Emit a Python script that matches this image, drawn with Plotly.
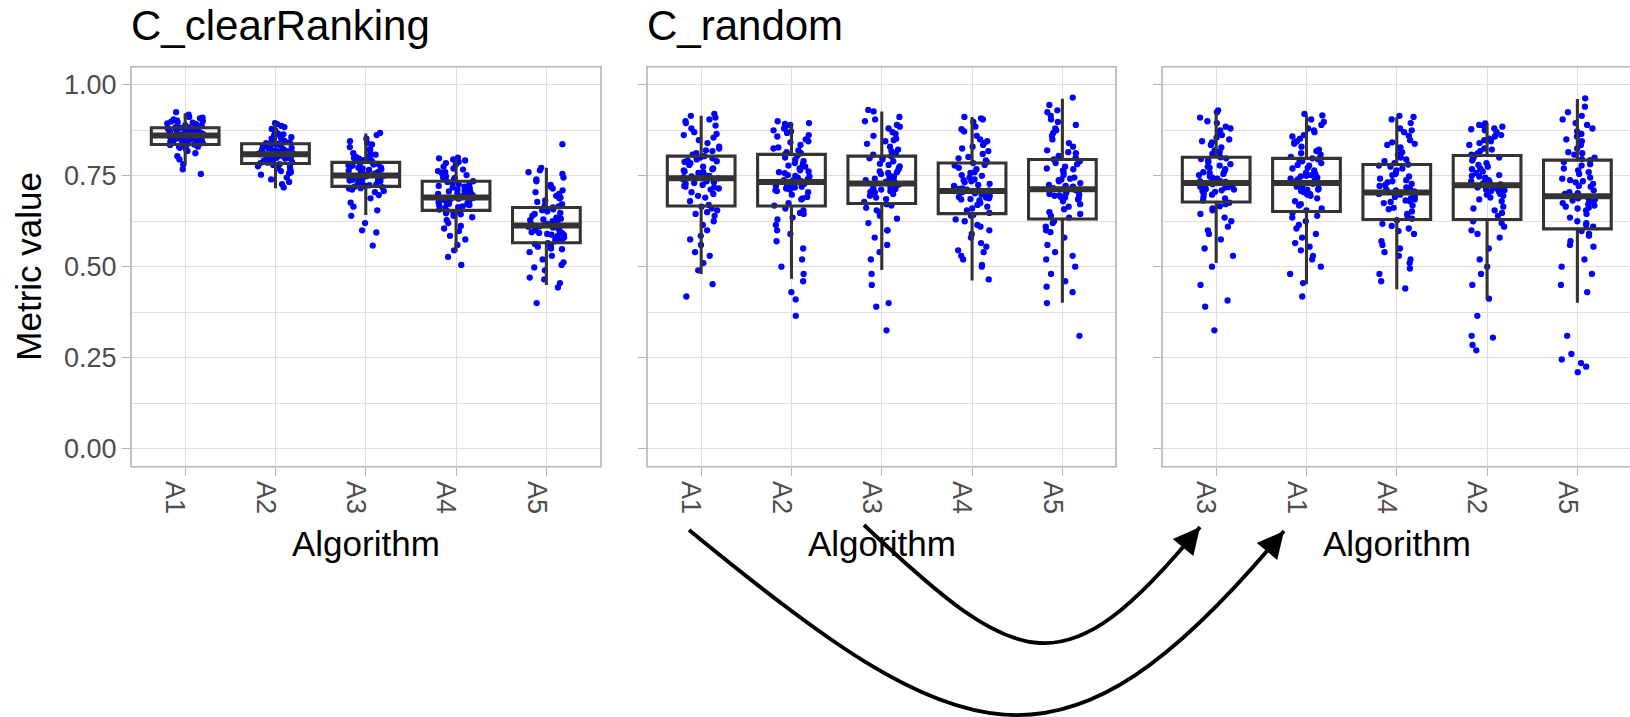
import math
import plotly.graph_objects as go

W, H = 1630, 717

# ---------------- data ----------------
cr_labels = ["A1", "A2", "A3", "A4", "A5"]
rd_labels = ["A1", "A2", "A3", "A4", "A5"]
rk_labels = ["A3", "A1", "A4", "A2", "A5"]

# panel C_clearRanking
cr_A1 = [0.861, 0.874, 0.845, 0.902, 0.853, 0.836, 0.889, 0.868, 0.823, 0.880, 0.857, 0.912, 0.848, 0.871, 0.795, 0.864, 0.884, 0.840, 0.896, 0.859, 0.830, 0.877, 0.866, 0.755, 0.851, 0.893, 0.842, 0.869, 0.905, 0.855, 0.818, 0.882, 0.862, 0.838, 0.899, 0.873, 0.847, 0.925, 0.860, 0.812, 0.886, 0.850, 0.867, 0.833, 0.891, 0.878, 0.843, 0.768, 0.865, 0.908, 0.856, 0.827, 0.881, 0.871, 0.839, 0.897, 0.863, 0.852, 0.918, 0.875, 0.804, 0.858, 0.887, 0.844, 0.870, 0.835, 0.900, 0.866, 0.849, 0.883, 0.782, 0.861, 0.894, 0.854, 0.829, 0.879, 0.846, 0.910, 0.868, 0.857]
cr_A2 = [0.809, 0.825, 0.791, 0.856, 0.802, 0.838, 0.771, 0.817, 0.866, 0.795, 0.812, 0.745, 0.831, 0.884, 0.806, 0.788, 0.843, 0.760, 0.820, 0.799, 0.874, 0.814, 0.785, 0.848, 0.733, 0.808, 0.829, 0.892, 0.797, 0.776, 0.835, 0.811, 0.852, 0.790, 0.718, 0.823, 0.804, 0.861, 0.780, 0.816, 0.840, 0.753, 0.800, 0.870, 0.827, 0.793, 0.812, 0.763, 0.846, 0.806, 0.879, 0.787, 0.821, 0.740, 0.833, 0.798, 0.858, 0.810, 0.775, 0.842, 0.803, 0.895, 0.786, 0.818, 0.727, 0.836, 0.796, 0.864, 0.813, 0.782, 0.850, 0.807, 0.768, 0.826, 0.801, 0.887, 0.792, 0.815, 0.757, 0.840]
cr_A3 = [0.751, 0.772, 0.735, 0.806, 0.744, 0.787, 0.712, 0.760, 0.829, 0.727, 0.755, 0.688, 0.778, 0.845, 0.748, 0.722, 0.793, 0.665, 0.764, 0.739, 0.818, 0.757, 0.720, 0.799, 0.640, 0.750, 0.775, 0.862, 0.731, 0.705, 0.783, 0.753, 0.812, 0.729, 0.558, 0.768, 0.742, 0.836, 0.716, 0.762, 0.790, 0.676, 0.737, 0.801, 0.770, 0.733, 0.756, 0.600, 0.795, 0.746, 0.852, 0.724, 0.766, 0.697, 0.781, 0.740, 0.823, 0.752, 0.708, 0.788, 0.743, 0.868, 0.719, 0.759, 0.594, 0.785, 0.738, 0.808, 0.758, 0.715, 0.797, 0.749, 0.655, 0.773, 0.741, 0.840, 0.726, 0.761, 0.620, 0.779]
cr_A4 = [0.690, 0.712, 0.668, 0.758, 0.681, 0.735, 0.640, 0.700, 0.782, 0.660, 0.694, 0.612, 0.722, 0.795, 0.686, 0.654, 0.744, 0.585, 0.705, 0.675, 0.770, 0.697, 0.650, 0.752, 0.545, 0.689, 0.718, 0.800, 0.664, 0.628, 0.730, 0.692, 0.763, 0.671, 0.505, 0.709, 0.679, 0.788, 0.647, 0.703, 0.740, 0.598, 0.673, 0.775, 0.715, 0.666, 0.695, 0.527, 0.748, 0.684, 0.792, 0.657, 0.707, 0.620, 0.727, 0.677, 0.767, 0.691, 0.636, 0.738, 0.682, 0.798, 0.652, 0.699, 0.560, 0.733, 0.670, 0.760, 0.693, 0.644, 0.745, 0.687, 0.575, 0.720, 0.674, 0.785, 0.662, 0.702, 0.605, 0.725]
cr_A5 = [0.613, 0.640, 0.585, 0.705, 0.600, 0.663, 0.548, 0.625, 0.745, 0.575, 0.618, 0.505, 0.652, 0.765, 0.608, 0.565, 0.682, 0.470, 0.632, 0.592, 0.725, 0.620, 0.560, 0.695, 0.443, 0.611, 0.645, 0.837, 0.580, 0.530, 0.672, 0.615, 0.715, 0.588, 0.400, 0.635, 0.598, 0.755, 0.555, 0.628, 0.688, 0.490, 0.595, 0.735, 0.648, 0.578, 0.617, 0.465, 0.700, 0.605, 0.772, 0.570, 0.630, 0.520, 0.668, 0.593, 0.720, 0.614, 0.540, 0.678, 0.602, 0.760, 0.562, 0.622, 0.455, 0.658, 0.587, 0.710, 0.616, 0.550, 0.690, 0.610, 0.498, 0.655, 0.590, 0.740, 0.572, 0.626, 0.512, 0.666]
cr_q1 = [0.836, 0.784, 0.721, 0.655, 0.566]
cr_med = [0.861, 0.809, 0.751, 0.690, 0.613]
cr_q3 = [0.882, 0.838, 0.787, 0.735, 0.663]
cr_lo = [0.781, 0.716, 0.642, 0.541, 0.450]
cr_hi = [0.922, 0.895, 0.866, 0.797, 0.772]

# panel C_random
rd_A1 = [0.743, 0.785, 0.705, 0.862, 0.728, 0.804, 0.640, 0.760, 0.895, 0.690, 0.748, 0.560, 0.792, 0.915, 0.735, 0.665, 0.825, 0.530, 0.770, 0.715, 0.880, 0.752, 0.655, 0.840, 0.452, 0.740, 0.790, 0.920, 0.700, 0.600, 0.812, 0.745, 0.870, 0.712, 0.418, 0.775, 0.722, 0.905, 0.650, 0.765, 0.830, 0.540, 0.718, 0.855, 0.780, 0.695, 0.750, 0.490, 0.818, 0.732, 0.888, 0.660, 0.768, 0.585, 0.800, 0.725, 0.848, 0.746, 0.625, 0.808, 0.738, 0.910, 0.670, 0.758, 0.510, 0.798, 0.720, 0.865, 0.755, 0.645, 0.820, 0.742, 0.575, 0.788, 0.730, 0.900, 0.680, 0.762, 0.615, 0.795]
rd_A2 = [0.733, 0.778, 0.698, 0.858, 0.718, 0.809, 0.635, 0.752, 0.885, 0.685, 0.738, 0.550, 0.790, 0.895, 0.725, 0.660, 0.828, 0.500, 0.765, 0.708, 0.875, 0.745, 0.648, 0.842, 0.410, 0.730, 0.785, 0.900, 0.692, 0.590, 0.815, 0.736, 0.868, 0.705, 0.365, 0.770, 0.715, 0.890, 0.645, 0.760, 0.835, 0.520, 0.712, 0.850, 0.775, 0.688, 0.740, 0.430, 0.820, 0.722, 0.880, 0.655, 0.762, 0.570, 0.800, 0.716, 0.845, 0.737, 0.615, 0.812, 0.728, 0.893, 0.668, 0.750, 0.460, 0.795, 0.710, 0.862, 0.748, 0.630, 0.825, 0.732, 0.480, 0.782, 0.720, 0.872, 0.675, 0.757, 0.600, 0.805]
rd_A3 = [0.729, 0.776, 0.700, 0.860, 0.716, 0.804, 0.640, 0.750, 0.900, 0.690, 0.735, 0.560, 0.790, 0.927, 0.722, 0.668, 0.830, 0.520, 0.762, 0.708, 0.880, 0.742, 0.655, 0.845, 0.400, 0.726, 0.783, 0.931, 0.695, 0.600, 0.812, 0.732, 0.870, 0.704, 0.325, 0.768, 0.712, 0.912, 0.650, 0.758, 0.838, 0.540, 0.710, 0.852, 0.772, 0.686, 0.738, 0.390, 0.818, 0.720, 0.890, 0.662, 0.760, 0.580, 0.798, 0.714, 0.848, 0.734, 0.620, 0.808, 0.724, 0.905, 0.672, 0.748, 0.450, 0.795, 0.706, 0.865, 0.745, 0.632, 0.822, 0.730, 0.480, 0.780, 0.718, 0.885, 0.678, 0.755, 0.600, 0.800]
rd_A4 = [0.708, 0.752, 0.675, 0.840, 0.695, 0.785, 0.615, 0.728, 0.885, 0.660, 0.712, 0.540, 0.768, 0.905, 0.700, 0.640, 0.810, 0.500, 0.740, 0.685, 0.860, 0.720, 0.630, 0.825, 0.465, 0.705, 0.760, 0.912, 0.670, 0.580, 0.792, 0.710, 0.850, 0.682, 0.520, 0.745, 0.690, 0.898, 0.625, 0.735, 0.818, 0.555, 0.688, 0.835, 0.750, 0.665, 0.715, 0.505, 0.798, 0.698, 0.872, 0.642, 0.738, 0.565, 0.778, 0.692, 0.830, 0.714, 0.600, 0.788, 0.702, 0.908, 0.648, 0.725, 0.530, 0.772, 0.686, 0.845, 0.722, 0.610, 0.802, 0.706, 0.590, 0.758, 0.694, 0.878, 0.655, 0.732, 0.545, 0.780]
rd_A5 = [0.713, 0.760, 0.672, 0.860, 0.695, 0.795, 0.600, 0.735, 0.915, 0.650, 0.718, 0.520, 0.775, 0.945, 0.702, 0.625, 0.820, 0.480, 0.745, 0.680, 0.890, 0.725, 0.610, 0.840, 0.400, 0.710, 0.768, 0.965, 0.665, 0.560, 0.805, 0.716, 0.875, 0.688, 0.310, 0.752, 0.692, 0.930, 0.620, 0.740, 0.830, 0.500, 0.690, 0.850, 0.765, 0.658, 0.720, 0.430, 0.812, 0.700, 0.905, 0.635, 0.742, 0.540, 0.785, 0.698, 0.868, 0.715, 0.580, 0.800, 0.706, 0.925, 0.640, 0.730, 0.460, 0.790, 0.685, 0.880, 0.722, 0.595, 0.815, 0.711, 0.445, 0.770, 0.696, 0.898, 0.645, 0.738, 0.530, 0.782]
rd_q1 = [0.667, 0.667, 0.674, 0.646, 0.631]
rd_med = [0.743, 0.733, 0.729, 0.708, 0.713]
rd_q3 = [0.804, 0.809, 0.804, 0.785, 0.795]
rd_lo = [0.480, 0.467, 0.491, 0.462, 0.401]
rd_hi = [0.915, 0.895, 0.927, 0.912, 0.962]

# third panel (order A3, A1, A4, A2, A5)
rk_A3 = [0.730, 0.775, 0.702, 0.855, 0.718, 0.801, 0.645, 0.752, 0.895, 0.692, 0.736, 0.575, 0.788, 0.925, 0.722, 0.672, 0.828, 0.530, 0.762, 0.710, 0.875, 0.742, 0.660, 0.842, 0.407, 0.727, 0.782, 0.930, 0.698, 0.610, 0.810, 0.733, 0.868, 0.706, 0.325, 0.768, 0.714, 0.910, 0.655, 0.758, 0.835, 0.550, 0.712, 0.850, 0.772, 0.688, 0.740, 0.390, 0.816, 0.720, 0.885, 0.666, 0.760, 0.590, 0.796, 0.716, 0.845, 0.735, 0.625, 0.806, 0.725, 0.900, 0.676, 0.748, 0.450, 0.792, 0.708, 0.862, 0.745, 0.635, 0.820, 0.731, 0.500, 0.778, 0.719, 0.880, 0.682, 0.755, 0.600, 0.798]
rk_A1 = [0.730, 0.772, 0.695, 0.852, 0.712, 0.798, 0.625, 0.748, 0.890, 0.672, 0.735, 0.545, 0.785, 0.916, 0.720, 0.648, 0.822, 0.500, 0.758, 0.700, 0.870, 0.740, 0.640, 0.838, 0.455, 0.725, 0.780, 0.920, 0.688, 0.580, 0.808, 0.732, 0.862, 0.698, 0.418, 0.765, 0.708, 0.905, 0.635, 0.752, 0.830, 0.520, 0.705, 0.845, 0.770, 0.680, 0.738, 0.480, 0.812, 0.716, 0.880, 0.655, 0.755, 0.565, 0.792, 0.712, 0.842, 0.733, 0.605, 0.802, 0.722, 0.898, 0.660, 0.745, 0.530, 0.790, 0.702, 0.858, 0.742, 0.615, 0.818, 0.728, 0.590, 0.778, 0.715, 0.875, 0.668, 0.750, 0.555, 0.795]
rk_A4 = [0.704, 0.748, 0.668, 0.838, 0.690, 0.781, 0.605, 0.725, 0.880, 0.652, 0.710, 0.530, 0.765, 0.912, 0.696, 0.628, 0.808, 0.480, 0.738, 0.678, 0.860, 0.718, 0.618, 0.825, 0.440, 0.700, 0.758, 0.915, 0.662, 0.570, 0.790, 0.707, 0.848, 0.675, 0.460, 0.742, 0.685, 0.895, 0.612, 0.732, 0.815, 0.510, 0.680, 0.835, 0.752, 0.658, 0.712, 0.495, 0.795, 0.692, 0.870, 0.632, 0.735, 0.550, 0.775, 0.688, 0.828, 0.709, 0.590, 0.785, 0.698, 0.905, 0.640, 0.722, 0.520, 0.770, 0.682, 0.842, 0.716, 0.598, 0.800, 0.702, 0.560, 0.755, 0.687, 0.875, 0.645, 0.728, 0.540, 0.778]
rk_A2 = [0.724, 0.770, 0.685, 0.852, 0.708, 0.806, 0.600, 0.745, 0.885, 0.655, 0.730, 0.500, 0.785, 0.894, 0.715, 0.625, 0.825, 0.450, 0.758, 0.695, 0.870, 0.738, 0.610, 0.840, 0.270, 0.720, 0.780, 0.890, 0.680, 0.550, 0.812, 0.726, 0.862, 0.690, 0.305, 0.762, 0.702, 0.880, 0.620, 0.750, 0.835, 0.480, 0.700, 0.848, 0.768, 0.665, 0.733, 0.285, 0.818, 0.712, 0.875, 0.640, 0.752, 0.520, 0.798, 0.706, 0.845, 0.728, 0.580, 0.808, 0.718, 0.888, 0.648, 0.742, 0.365, 0.792, 0.698, 0.858, 0.735, 0.590, 0.822, 0.722, 0.310, 0.775, 0.710, 0.878, 0.660, 0.748, 0.412, 0.800]
rk_A5 = [0.694, 0.745, 0.655, 0.850, 0.675, 0.793, 0.570, 0.720, 0.905, 0.625, 0.700, 0.480, 0.765, 0.940, 0.685, 0.598, 0.815, 0.430, 0.735, 0.660, 0.880, 0.710, 0.585, 0.835, 0.210, 0.690, 0.755, 0.963, 0.645, 0.520, 0.800, 0.698, 0.865, 0.668, 0.245, 0.742, 0.672, 0.925, 0.590, 0.728, 0.825, 0.450, 0.665, 0.845, 0.760, 0.635, 0.705, 0.225, 0.808, 0.682, 0.895, 0.610, 0.732, 0.500, 0.782, 0.678, 0.858, 0.696, 0.555, 0.796, 0.688, 0.915, 0.615, 0.722, 0.235, 0.788, 0.662, 0.872, 0.702, 0.560, 0.812, 0.692, 0.260, 0.770, 0.680, 0.890, 0.620, 0.738, 0.310, 0.778]
rk_q1 = [0.678, 0.652, 0.630, 0.630, 0.604]
rk_med = [0.730, 0.730, 0.704, 0.724, 0.694]
rk_q3 = [0.801, 0.798, 0.781, 0.806, 0.793]
rk_lo = [0.510, 0.452, 0.438, 0.412, 0.401]
rk_hi = [0.925, 0.916, 0.912, 0.894, 0.961]

panel_titles = ["C_clearRanking", "C_random", ""]
y_ticks = [0.0, 0.25, 0.5, 0.75, 1.0]
y_ticktext = ["0.00", "0.25", "0.50", "0.75", "1.00"]

# ---------------- style / layout ----------------
BLUE = "#0000FF"
BOXC = "#333333"
BORDER = "#B3B3B3"
GRID = "#DEDEDE"
TXT = "#4D4D4D"
FONT = "Liberation Sans, Arial, Helvetica, sans-serif"

# pixel geometry (full-size image)
PT, PB = 66.7, 466.7
panels_px = [(131, 601), (647, 1116), (1162, 1631)]
UNIT = 90.3  # px per category


def px(x):
    return x / W


def py(y):
    return 1 - y / H


JW = 0.2


def jitter(n, seed):
    return [((math.sin((i + 1) * 12.9898 + seed * 78.233) * 43758.5453) % 1.0) * 2 * JW - JW
            for i in range(n)]


panels = [
    dict(labels=cr_labels, series=[cr_A1, cr_A2, cr_A3, cr_A4, cr_A5],
         q1=cr_q1, med=cr_med, q3=cr_q3, lo=cr_lo, hi=cr_hi),
    dict(labels=rd_labels, series=[rd_A1, rd_A2, rd_A3, rd_A4, rd_A5],
         q1=rd_q1, med=rd_med, q3=rd_q3, lo=rd_lo, hi=rd_hi),
    dict(labels=rk_labels, series=[rk_A3, rk_A1, rk_A4, rk_A2, rk_A5],
         q1=rk_q1, med=rk_med, q3=rk_q3, lo=rk_lo, hi=rk_hi),
]

fig = go.Figure()
layout = dict(
    width=W, height=H,
    margin=dict(l=0, r=0, t=0, b=0, autoexpand=False),
    paper_bgcolor="white", plot_bgcolor="rgba(0,0,0,0)",
    showlegend=False,
    font=dict(family=FONT, color=TXT),
)

annotations = []
shapes = []
BW = 0.75

for k, p in enumerate(panels):
    base = k + 1
    ov = k + 4
    xs = "" if base == 1 else str(base)
    xo = str(ov)
    x0p, x1p = panels_px[k]
    dom_x1 = min(x1p, W)
    dom = [px(x0p), px(dom_x1)]
    xr = [0.4, 0.4 + (dom_x1 - x0p) / UNIT]
    yr = [-0.05, 1.05]
    ydom = [py(PB), py(PT)]

    layout["xaxis" + xs] = dict(
        domain=dom, range=xr, anchor="y" + xs,
        tickmode="array", tickvals=[1, 2, 3, 4, 5], ticktext=p["labels"],
        tickangle=90, ticks="outside", ticklen=8, tickwidth=1.3, tickcolor=BORDER,
        showgrid=True, gridcolor=GRID, gridwidth=1.3, zeroline=False, showline=False,
        tickfont=dict(size=27, color=TXT, family=FONT), ticklabelshift=-10,
        automargin=False, fixedrange=True,
    )
    layout["yaxis" + xs] = dict(
        domain=ydom, range=yr, anchor="x" + xs,
        tickmode="array", tickvals=y_ticks, ticktext=y_ticktext,
        showticklabels=(k == 0),
        ticks="outside", ticklen=8, tickwidth=1.3, tickcolor=BORDER,
        showgrid=True, gridcolor=GRID, gridwidth=1.3, zeroline=False, showline=False,
        minor=dict(tickvals=[0.125, 0.375, 0.625, 0.875], showgrid=True,
                   gridcolor=GRID, gridwidth=0.7, ticks=""),
        tickfont=dict(size=27, color=TXT, family=FONT),
        automargin=False, fixedrange=True,
    )
    layout["xaxis" + xo] = dict(domain=dom, range=xr, overlaying="x" + xs, anchor="y" + xo,
                                visible=False, fixedrange=True)
    layout["yaxis" + xo] = dict(domain=ydom, range=yr, overlaying="y" + xs, anchor="x" + xo,
                                visible=False, fixedrange=True)

    # jittered points
    for j, vals in enumerate(p["series"]):
        offs = jitter(len(vals), k * 7 + j + 1)
        fig.add_trace(go.Scatter(
            x=[j + 1 + o for o in offs], y=vals, mode="markers",
            marker=dict(color=BLUE, size=6.3, line=dict(width=0)),
            xaxis="x" + xs, yaxis="y" + xs, hoverinfo="skip", cliponaxis=False,
        ))

    # boxes on overlay axes (drawn above the points)
    fig.add_trace(go.Box(
        x=[1, 2, 3, 4, 5], q1=p["q1"], median=p["med"], q3=p["q3"],
        lowerfence=p["lo"], upperfence=p["hi"],
        boxpoints=False, width=BW, whiskerwidth=0,
        fillcolor="rgba(0,0,0,0)", line=dict(color=BOXC, width=3.1),
        xaxis="x" + xo, yaxis="y" + xo, hoverinfo="skip",
    ))
    # thicker median bars
    mx, my = [], []
    for j, m in enumerate(p["med"]):
        mx += [j + 1 - BW / 2, j + 1 + BW / 2, None]
        my += [m, m, None]
    fig.add_trace(go.Scatter(x=mx, y=my, mode="lines",
                             line=dict(color=BOXC, width=6),
                             xaxis="x" + xo, yaxis="y" + xo, hoverinfo="skip"))

    # panel border
    shapes.append(dict(type="rect", xref="paper", yref="paper",
                       x0=px(x0p), x1=px(x1p), y0=py(PB), y1=py(PT),
                       line=dict(color=BORDER, width=1.6), layer="above"))

    # titles
    if panel_titles[k]:
        annotations.append(dict(text=panel_titles[k], xref="paper", yref="paper",
                                x=px(x0p - 2), y=py(26), xanchor="left", yanchor="middle",
                                showarrow=False, font=dict(size=42, color="black", family=FONT)))
    cx = x0p + 2.6 * UNIT
    annotations.append(dict(text="Algorithm", xref="paper", yref="paper",
                            x=px(cx), y=py(543), xanchor="center", yanchor="middle",
                            showarrow=False, font=dict(size=35, color="black", family=FONT)))

annotations.append(dict(text="Metric value", xref="paper", yref="paper",
                        x=px(29), y=py((PT + PB) / 2), xanchor="center", yanchor="middle",
                        textangle=-90, showarrow=False,
                        font=dict(size=35, color="black", family=FONT)))

# curved arrows (pixel geometry converted to paper)
curves = [
    [(689, 530), (960, 752), (1060, 800), (1284, 531)],
    [(864, 525), (1020, 672), (1064, 692), (1200, 527)],
]
for c in curves:
    (a, b), (c1x, c1y), (c2x, c2y), (dx, dy) = c
    path = "M {:.5f},{:.5f} C {:.5f},{:.5f} {:.5f},{:.5f} {:.5f},{:.5f}".format(
        px(a), py(b), px(c1x), py(c1y), px(c2x), py(c2y), px(dx), py(dy))
    shapes.append(dict(type="path", xref="paper", yref="paper", path=path,
                       line=dict(color="black", width=3.8), layer="above"))
    # arrow head along the end tangent
    tx, ty = dx - c2x, dy - c2y
    L = math.hypot(tx, ty)
    ux, uy = tx / L, ty / L
    annotations.append(dict(text="", xref="paper", yref="paper", x=px(dx), y=py(dy),
                            showarrow=True, axref="pixel", ayref="pixel",
                            ax=-ux * 22, ay=-uy * 22,
                            arrowhead=2, arrowsize=1.4, arrowwidth=3.8, arrowcolor="black",
                            standoff=0))

layout["annotations"] = annotations
layout["shapes"] = shapes
fig.update_layout(**layout)
fig.write_html("out.html")
